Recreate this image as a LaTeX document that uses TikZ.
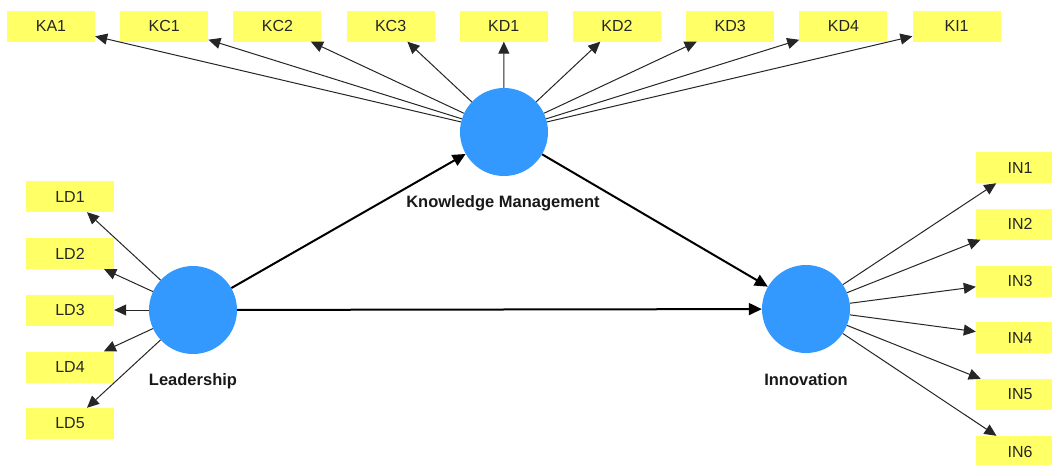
\documentclass[tikz,border=0pt]{standalone}
\usepackage{fontspec}
\setmainfont{Liberation Sans}
\usetikzlibrary{arrows.meta}
\definecolor{lvblue}{HTML}{3399FF}
\definecolor{indyellow}{HTML}{FFFF66}
\begin{document}
\begin{tikzpicture}[x=1pt,y=-1pt,
  ind/.style={rectangle, fill=indyellow, minimum width=88pt, minimum height=31pt, inner sep=0pt, font=\fontsize{16}{18}\selectfont, text=black!85},
  lv/.style={circle, fill=lvblue, minimum size=88pt, inner sep=0pt},
  lvlab/.style={font=\fontsize{16.5}{18}\bfseries\selectfont, inner sep=0pt, text=black!90},
  meas/.style={draw=black!85, line width=1pt, -{Triangle[length=12pt,width=11pt]}},
  struct/.style={draw=black, line width=2pt, -{Triangle[length=13pt,width=12pt]}}]
\useasboundingbox (0,0) rectangle (1052,464);
\fill[white] (0,0) rectangle (1052,464);

% latent variables
\node[lv] (KM) at (504,132) {};
\node[lv] (LE) at (193,310) {};
\node[lv] (IN) at (806,309) {};
\node[lvlab] (KMlab) at (503,203) {Knowledge Management};
\node[lvlab] (LElab) at (193,381) {Leadership};
\node[lvlab] (INlab) at (806,380) {Innovation};

% top indicators
\node[ind] (KA1) at (51,26) {KA1};
\node[ind] (KC1) at (164.2,26) {KC1};
\node[ind] (KC2) at (277.4,26) {KC2};
\node[ind] (KC3) at (390.6,26) {KC3};
\node[ind] (KD1) at (503.8,26) {KD1};
\node[ind] (KD2) at (617,26) {KD2};
\node[ind] (KD3) at (730.2,26) {KD3};
\node[ind] (KD4) at (843.4,26) {KD4};
\node[ind] (KI1) at (956.6,26) {KI1};

% left indicators
\node[ind] (LD1) at (70,196.5) {LD1};
\node[ind] (LD2) at (70,253.5) {LD2};
\node[ind] (LD3) at (70,310) {LD3};
\node[ind] (LD4) at (70,367) {LD4};
\node[ind] (LD5) at (70,423.5) {LD5};

% right indicators
\node[ind] (IN1) at (1020,167.5) {IN1};
\node[ind] (IN2) at (1020,224) {IN2};
\node[ind] (IN3) at (1020,281) {IN3};
\node[ind] (IN4) at (1020,337.5) {IN4};
\node[ind] (IN5) at (1020,394.5) {IN5};
\node[ind] (IN6) at (1020,451.5) {IN6};

% measurement arrows
\foreach \t in {KA1,KC1,KC2,KC3,KD1,KD2,KD3,KD4,KI1}
  \draw[meas] (KM) -- (\t);
\foreach \t in {LD1,LD2,LD3,LD4,LD5}
  \draw[meas] (LE) -- (\t);
\foreach \t in {IN1,IN2,IN3,IN4,IN5,IN6}
  \draw[meas] (IN) -- (\t);

% structural paths
\draw[struct] (LE) -- (KM);
\draw[struct] (KM) -- (IN);
\draw[struct] (LE) -- (IN);
\end{tikzpicture}
\end{document}
